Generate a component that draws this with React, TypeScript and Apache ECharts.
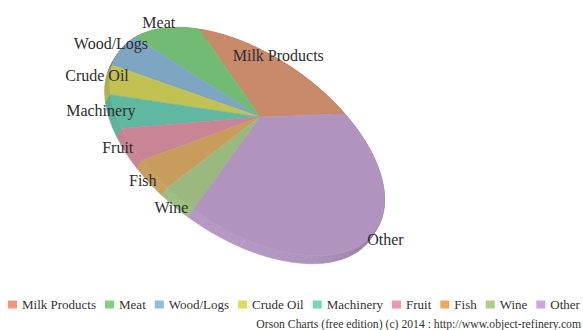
import React, { useEffect, useRef } from "react";
import * as echarts from "echarts";

const categories = ["Milk Products", "Meat", "Wood/Logs", "Crude Oil", "Machinery", "Fruit", "Fish", "Wine", "Other"];
const exportsValue = [11625, 5114, 3060, 2023, 1865, 1587, 1367, 1177, 18870];
const faceColors = ["#c88a6b", "#72bb72", "#7da6c2", "#c2c252", "#60b8a0", "#c98595", "#c89c5c", "#9bb97e", "#b094be"];
const legendColors = ["#f0967d", "#7dd27d", "#8cbee1", "#dcdc5a", "#73d7b9", "#f096af", "#ebaa5a", "#afcd87", "#cda5e1"];
const creditLine = "Orson Charts (free edition) (c) 2014 : http://www.object-refinery.com";

const SERIF = "'Liberation Serif', serif";

// Perspective mapping of the unit disc onto the screen, centred on the pie's apex.
const view = { cx: 260, cy: 117, g: 0.249, h: 0.2, a1: 106.2, a2: -74.4, b1: -3.75, b2: -105.6, dx: -5, dy: 8 };
const light = { x: -0.5, y: 0.866 };

function project(theta: number, r = 1): [number, number] {
  const u = r * Math.cos(theta);
  const v = r * Math.sin(theta);
  const w = 1 + view.g * u + view.h * v;
  return [view.cx + (view.a1 * u + view.a2 * v) / w, view.cy + (view.b1 * u + view.b2 * v) / w];
}

function shade(hex: string, f: number): string {
  const n = parseInt(hex.slice(1), 16);
  const c = [(n >> 16) & 255, (n >> 8) & 255, n & 255].map((x) => Math.min(255, Math.round(x * f)));
  return `rgb(${c[0]},${c[1]},${c[2]})`;
}

const total = exportsValue.reduce((a, b) => a + b, 0);
const startFractions: number[] = [];
exportsValue.reduce((acc, v) => {
  startFractions.push(acc / total);
  return acc + v;
}, 0);

const TAU = Math.PI * 2;
const STEP = Math.PI / 90;

function rimAngles(t0: number, t1: number): number[] {
  const out: number[] = [];
  const n = Math.max(1, Math.ceil((t1 - t0) / STEP));
  for (let i = 0; i <= n; i++) out.push(t0 + ((t1 - t0) * i) / n);
  return out;
}

// The rim's side wall: one quad per rim step, lit by its facing on screen.
function renderSide(_p: any, api: any) {
  const t0 = api.value(0) * TAU;
  const t1 = api.value(1) * TAU;
  const color = faceColors[api.value(2)];
  const angles = rimAngles(t0, t1);
  const children: any[] = [];
  for (let i = 0; i + 1 < angles.length; i++) {
    const a = project(angles[i]);
    const b = project(angles[i + 1]);
    const len = Math.hypot(b[0] - a[0], b[1] - a[1]) || 1;
    const nx = -(b[1] - a[1]) / len;
    const ny = (b[0] - a[0]) / len;
    const facing = Math.max(0, nx * light.x + ny * light.y);
    const fill = shade(color, 0.84 + 0.19 * facing * facing);
    children.push({
      type: "polygon",
      shape: {
        points: [a, b, [b[0] + view.dx, b[1] + view.dy], [a[0] + view.dx, a[1] + view.dy]],
      },
      style: { fill, stroke: fill, lineWidth: 0.6 },
    });
  }
  return { type: "group", children };
}

// The slice's top face and its category label.
function renderFace(_p: any, api: any) {
  const t0 = api.value(0) * TAU;
  const t1 = api.value(1) * TAU;
  const idx = api.value(2);
  const pts = [[view.cx, view.cy], ...rimAngles(t0, t1).map((t) => project(t))];
  const anchor = project((t0 + t1) / 2, 1.07);
  return {
    type: "group",
    children: [
      {
        type: "polygon",
        shape: { points: pts },
        style: { fill: faceColors[idx], stroke: faceColors[idx], lineWidth: 0.5 },
      },
      {
        type: "text",
        x: anchor[0],
        y: anchor[1],
        z2: 20,
        style: {
          text: categories[idx],
          fill: "#2e2e2e",
          font: `16px ${SERIF}`,
          align: "center",
          verticalAlign: "middle",
        },
      },
    ],
  };
}

export default function App() {
  const ref = useRef<HTMLDivElement>(null);
  useEffect(() => {
    const chart = echarts.init(ref.current!, undefined, { renderer: "svg" });
    const spans = exportsValue.map((v, i) => [startFractions[i], startFractions[i] + v / total, i]);
    chart.setOption({
      animation: false,
      backgroundColor: "#ffffff",
      legend: {
        left: 8,
        top: 298,
        width: 575,
        icon: "rect",
        itemWidth: 9,
        itemHeight: 8,
        itemGap: 9,
        padding: 0,
        textStyle: { fontFamily: SERIF, fontSize: 13, color: "#333333" },
        data: categories.map((name, i) => ({ name, itemStyle: { color: legendColors[i] } })),
      },
      graphic: [
        {
          type: "text",
          right: 2,
          top: 318,
          style: { text: creditLine, font: `11.7px ${SERIF}`, fill: "#333333" },
        },
      ],
      series: [
        { type: "custom", name: "rim", coordinateSystem: "none", silent: true, z: 1, renderItem: renderSide, data: spans },
        ...categories.map((name, i) => ({
          type: "custom",
          name,
          coordinateSystem: "none",
          silent: true,
          z: 2,
          itemStyle: { color: legendColors[i] },
          renderItem: renderFace,
          data: [spans[i]],
        })),
      ],
    });
    return () => chart.dispose();
  }, []);
  return <div ref={ref} style={{ position: "absolute", left: 0, top: 0, width: 583, height: 330 }} />;
}
